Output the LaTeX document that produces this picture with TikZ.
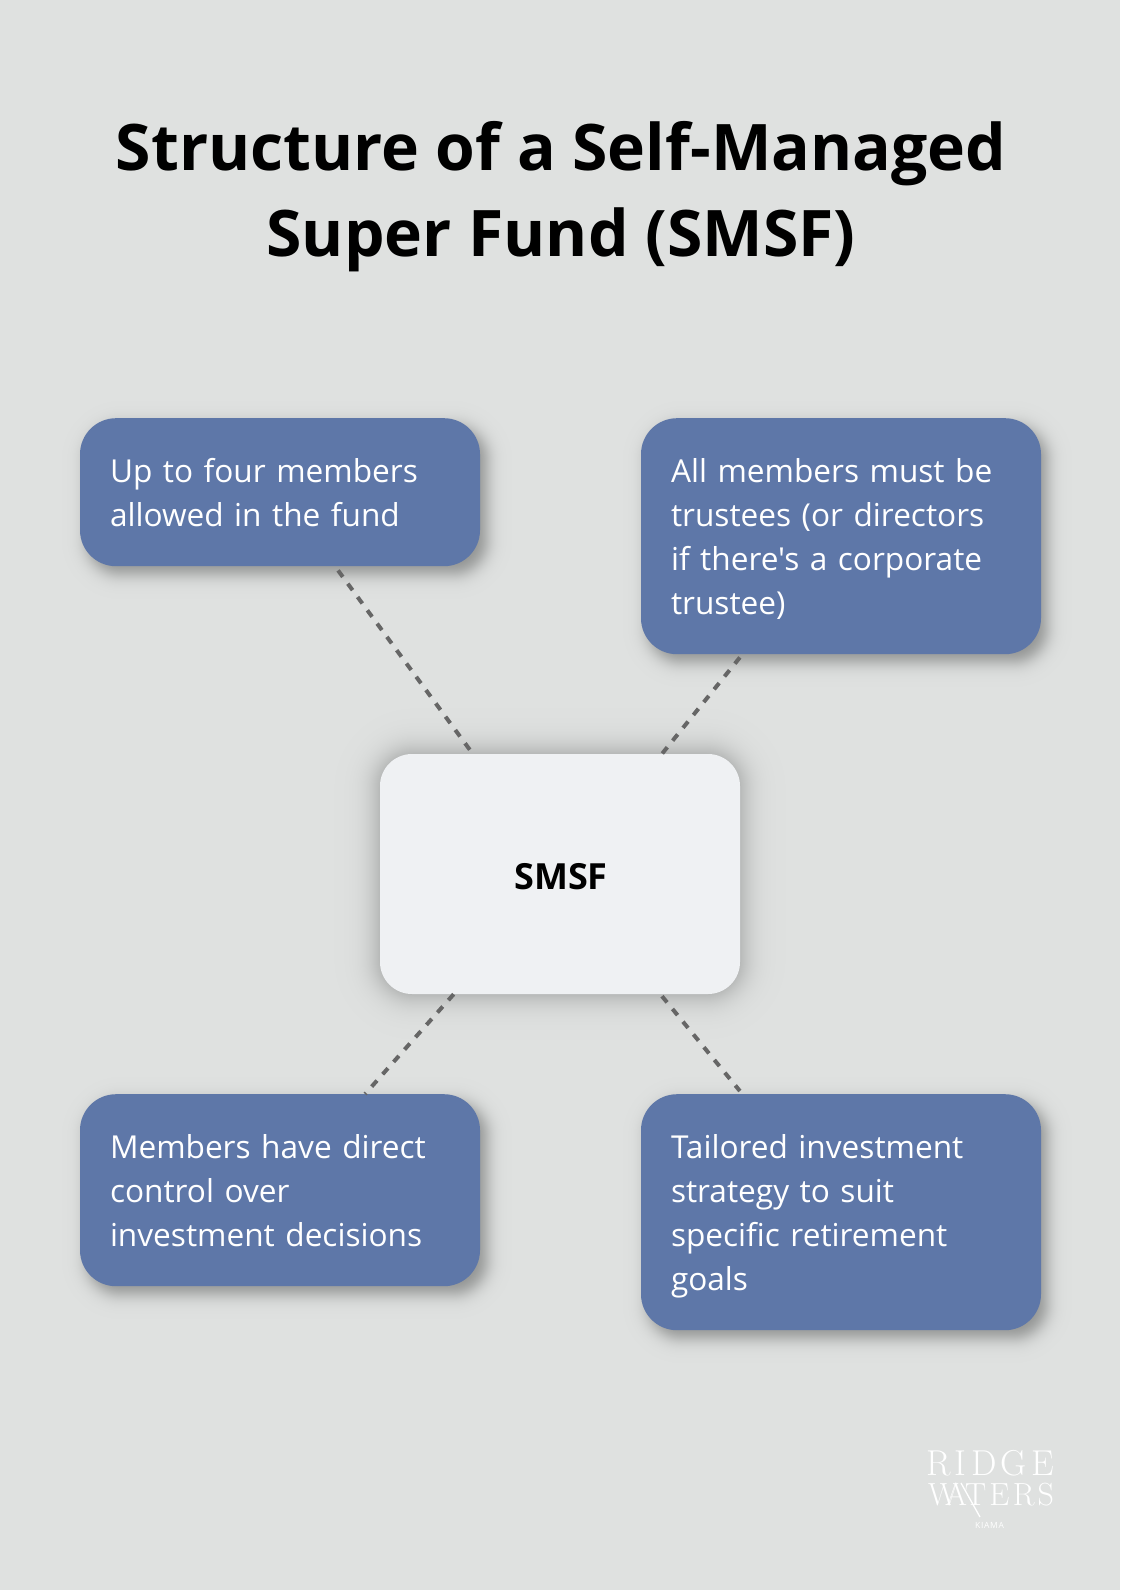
\documentclass[tikz,border=0pt]{standalone}
\usepackage{fontspec}
\newfontfamily\bodyfont{Open Sans}
\setmainfont{Open Sans}
\newfontfamily\logofont{Latin Modern Roman}
\usetikzlibrary{calc}
\definecolor{bgc}{HTML}{DFE1E0}
\definecolor{bluec}{HTML}{5E77A8}
\definecolor{centerc}{HTML}{EFF1F3}
\definecolor{linec}{HTML}{666666}
\newcommand{\softshadow}[8]{% x1,y1,x2,y2,dx,dy,scale,opacity
  \foreach \t in {1,...,80}{
    \pgfmathsetmacro{\p}{(\t-0.5)/80}
    \pgfmathsetmacro{\s}{#7*ln(\p/(1-\p))}
    \pgfmathsetmacro{\rr}{max(10,34+\s)}
    \fill[black,opacity=#8,rounded corners=\rr pt]
      (#1+#5-\s,#2+#6-\s) rectangle (#3+#5+\s,#4+#6+\s);
  }
}
\tikzset{
  infobox/.style={fill=bluec,rounded corners=36pt,minimum width=400pt,text=white,
    text width=340pt,align=left,inner xsep=0pt,inner ysep=0pt,anchor=north,
    font=\bodyfont\fontsize{31.6}{44}\selectfont},
  hubbox/.style={fill=centerc,rounded corners=32pt,minimum width=360pt,minimum height=240pt,
    text=black,inner sep=0pt,font=\fontsize{36}{44}\selectfont\bfseries},
  titletext/.style={text=black,align=center,inner sep=0pt,font=\fontsize{64.2}{86}\selectfont\bfseries},
  dotline/.style={draw=linec,line width=4pt,dash pattern=on 8pt off 8.5pt},
  logotext/.style={text=white,inner sep=0pt,anchor=base west}
}
\begin{document}
\begin{tikzpicture}[x=1pt,y=-1pt]
\useasboundingbox (0,0) rectangle (1120,1590);
\fill[bgc] (0,0) rectangle (1120,1590);
\node[titletext] (title) at (561,197) {Structure of a Self-Managed\\Super Fund (SMSF)};
\softshadow{80}{418}{480}{566}{7}{8}{5}{0.0055}
\softshadow{641}{418}{1040}{654}{7}{8}{5}{0.0055}
\softshadow{80}{1094}{480}{1286}{7}{8}{5}{0.0055}
\softshadow{641}{1094}{1040}{1330}{7}{8}{5}{0.0055}
\softshadow{380}{754}{740}{994}{0}{0}{9}{0.0045}
\node[hubbox] (hub) at (560,874) {\rule{0pt}{32pt}\kern2pt SMSF};
\node[infobox,minimum height=148pt] (a) at (280,418) {Up to four members\\allowed in the fund};
\node[infobox,minimum height=236pt] (b) at (841,418) {\rule{0pt}{30pt}All members must be\\trustees (or directors\\if there's a corporate\\trustee)};
\node[infobox,minimum height=192pt] (c) at (280,1094) {\rule{0pt}{24pt}Members have direct\\control over\\investment decisions};
\node[infobox,minimum height=236pt] (d) at (841,1094) {\rule{0pt}{32pt}Tailored investment\\strategy to suit\\specific retirement\\goals};
\draw[dotline] ($(a.south west)!0.645!(a.south east)+(0,4)$) -- ($(hub.north west)!0.258!(hub.north east)$);
\draw[dotline] ($(b.south west)!0.2475!(b.south east)+(0,3)$) -- ($(hub.north west)!0.783!(hub.north east)$);
\draw[dotline] ($(hub.south west)!0.205!(hub.south east)$) -- ($(c.north west)!0.7125!(c.north east)$);
\draw[dotline] ($(hub.south west)!0.783!(hub.south east)+(0,2)$) -- ($(d.north west)!0.2475!(d.north east)+(0,-3)$);
\node[logotext,font=\logofont\fontsize{36}{36}\selectfont\addfontfeature{LetterSpace=12}] (l1) at (926,1475) {RIDGE};
\node[logotext,font=\logofont\fontsize{32}{32}\selectfont\addfontfeature{LetterSpace=10}] (l2) at (928,1505) {W\kern-14pt A\kern-2pt TERS};
\draw[white,line width=1.3pt] (961,1483) -- (980,1517);
\node[logotext,font=\fontsize{8.5}{9}\selectfont\addfontfeature{LetterSpace=8}] (l3) at (975,1528) {KIAMA};
\end{tikzpicture}
\end{document}
